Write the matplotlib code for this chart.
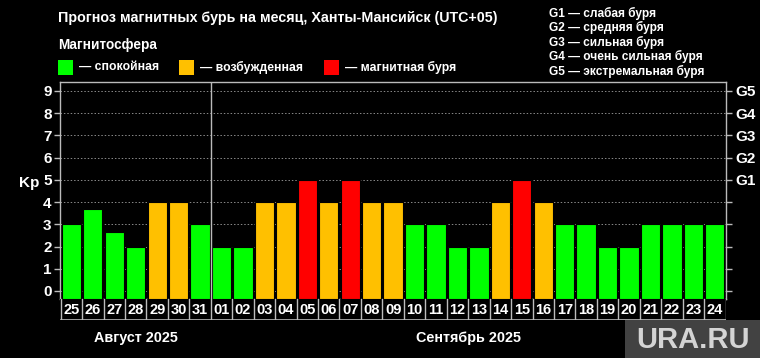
import matplotlib
matplotlib.use("Agg")
import matplotlib.pyplot as plt
from matplotlib.patches import Rectangle

plt.rcParams['font.family'] = ['Liberation Sans', 'DejaVu Sans']
plt.rcParams['font.weight'] = 'bold'

days = ["25", "26", "27", "28", "29", "30", "31",
        "01", "02", "03", "04", "05", "06", "07", "08", "09", "10", "11", "12",
        "13", "14", "15", "16", "17", "18", "19", "20", "21", "22", "23", "24"]
kp = [3, 3.67, 2.67, 2, 4, 4, 3,
      2, 2, 4, 4, 5, 4, 5, 4, 4, 3, 3, 2,
      2, 4, 5, 4, 3, 3, 2, 2, 3, 3, 3, 3]
months = ["Август 2025", "Сентябрь 2025"]
month_days = [7, 24]
g_labels = ["G1", "G2", "G3", "G4", "G5"]
g_desc = ["G1 — слабая буря", "G2 — средняя буря", "G3 — сильная буря",
          "G4 — очень сильная буря", "G5 — экстремальная буря"]
legend_labels = ["— спокойная", "— возбужденная", "— магнитная буря"]

GREEN, ORANGE, RED = "#00ff00", "#ffc000", "#ff0000"
def color_for(v):
    if v >= 5:
        return RED
    if v >= 4:
        return ORANGE
    return GREEN

W, H = 760, 358
fig = plt.figure(figsize=(7.6, 3.58), dpi=100, facecolor="black")
def fx(px): return px / W
def fy(py): return 1 - py / H

ymin, ymax = -0.36, 9.4
xmin, xmax = -0.53, len(days) - 0.48
ax = fig.add_axes([fx(60), fy(299), fx(726) - fx(60), fy(82) - fy(299)])
ax.set_facecolor("black")
x = list(range(len(days)))
ax.bar(x, [v - ymin for v in kp], bottom=ymin, width=0.9,
       color=[color_for(v) for v in kp], edgecolor="black", linewidth=0.8, zorder=3)
ax.set_xlim(xmin, xmax)
ax.set_ylim(ymin, ymax)
for yv in range(10):
    ax.axhline(yv, color="#8a8a8a", linestyle=(0, (1.5, 2)), linewidth=0.7, zorder=1)
ax.set_yticks(range(10))
ax.set_yticklabels([str(i) for i in range(10)], color="white", fontsize=11, fontweight="bold")
ax.set_xticks([])
for s in ax.spines.values():
    s.set_color("#bbbbbb")
    s.set_linewidth(1)
ax.tick_params(axis="y", colors="#bbbbbb", length=4, width=1, labelcolor="white", pad=2)
ax.set_ylabel("Kp", color="white", fontsize=11, fontweight="bold", rotation=0, labelpad=14)
ax.yaxis.set_label_coords(-0.047, 0.5)

ax2 = ax.twinx()
ax2.set_ylim(ymin, ymax)
ax2.set_yticks(range(10))
ax2.set_yticklabels(["" for _ in range(5)] + g_labels, color="white", fontsize=11, fontweight="bold")
ax2.tick_params(axis="y", colors="#bbbbbb", length=4, width=1, labelcolor="white", pad=3)
for s in ax2.spines.values():
    s.set_visible(False)

# month separator
sep = month_days[0] - 0.5
ax.plot([sep, sep], [ymin, ymax], color="#bbbbbb", linewidth=1, zorder=4)

# date row
axd = fig.add_axes([fx(60), fy(320), fx(726) - fx(60), fy(299) - fy(320)])
axd.set_facecolor("black")
axd.set_xlim(xmin, xmax)
axd.set_ylim(0, 1)
axd.set_xticks([])
axd.set_yticks([])
for s in axd.spines.values():
    s.set_visible(False)
for i, d in enumerate(days):
    axd.text(i, 0.47, d, ha="center", va="center", color="white", fontsize=10.5, fontweight="bold")
for i in range(len(days) + 1):
    xb = i - 0.5
    axd.plot([xb, xb], [0, 1], color="#bbbbbb", linewidth=1)
axd.plot([-0.5, len(days) - 0.5], [0, 0], color="#bbbbbb", linewidth=1.2)

# month labels
start = 0
for m, n in zip(months, month_days):
    center = start + (n - 1) / 2
    xf = fx(60) + (center - xmin) / (xmax - xmin) * (fx(726) - fx(60))
    fig.text(xf, fy(338), m, ha="center", va="center", color="white", fontsize=10.4, fontweight="bold")
    start += n

# title and legend
fig.text(fx(58), fy(18), "Прогноз магнитных бурь на месяц, Ханты-Мансийск (UTC+05)",
         ha="left", va="center", color="white", fontsize=10.3, fontweight="bold")
fig.text(fx(58), fy(45), "Магнитосфера", ha="left", va="center", color="white", fontsize=9.8, fontweight="bold")
leg_x = [58, 179, 324]
for lx, col, lab in zip(leg_x, [GREEN, ORANGE, RED], legend_labels):
    fig.patches.append(Rectangle((fx(lx), fy(75)), fx(15), fy(60) - fy(75), transform=fig.transFigure,
                                 facecolor=col, edgecolor="none"))
    fig.text(fx(lx + 21), fy(67), lab, ha="left", va="center", color="white", fontsize=8.8, fontweight="bold")

for k, t in enumerate(g_desc):
    fig.text(fx(549), fy(13 + 14.5 * k), t, ha="left", va="center", color="white", fontsize=8.6, fontweight="bold")

# watermark
fig.patches.append(Rectangle((fx(625), 0), 1 - fx(625), fy(320), transform=fig.transFigure,
                             facecolor="#4a4a4a", edgecolor="none", alpha=0.9))
fig.text(fx(693), fy(340), "URA.RU", ha="center", va="center", color="#d4d4d4", fontsize=21, fontweight="bold")

fig.savefig("out.png", dpi=100, facecolor="black")
